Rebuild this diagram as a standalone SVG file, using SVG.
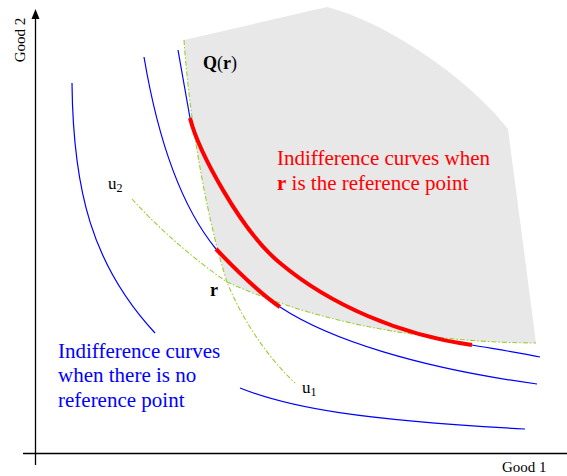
<svg xmlns="http://www.w3.org/2000/svg" width="567" height="476" viewBox="0 0 567 476">
<style>
text{font-family:"Liberation Serif","Times New Roman",serif;}
.ax{stroke:#000;stroke-width:1.3;fill:none}
.blue{stroke:#0000ff;stroke-width:1.2;fill:none}
.red{stroke:#ff0000;stroke-width:4;fill:none}
.green{stroke:#9acd32;stroke-width:1.1;fill:none;stroke-dasharray:5 2 1.5 2}
.lbl{font-size:21px}
</style>
<rect width="567" height="476" fill="#fff"/>
<g id="region-Q">
<path d="M184,40 L327,7 C385,22 465,75 508,129 L536,343 C400,342 300,315 227,282 C210,230 190,130 184,40 Z" fill="#e8e8e8"/>
</g>
<g id="axes">
<line class="ax" x1="35.5" y1="465" x2="35.5" y2="17"/>
<polygon points="35.5,9 31.5,19 39.5,19" fill="#000"/>
<line class="ax" x1="23" y1="453.5" x2="567" y2="453.5"/>
<text x="0" y="0" transform="translate(25,40) rotate(-90)" text-anchor="middle" font-size="15">Good 2</text>
<text x="502" y="472" font-size="15">Good 1</text>
</g>
<g id="connectors">
<path class="blue" d="M72,83 C73,190 92,265 155,333"/>
<path class="blue" d="M144,57 C158,140 180,205 216,249"/>
<path class="blue" d="M280,307 C330,340 420,368 537,384"/>
<path class="blue" d="M178,50 C182,72 186,95 190,118"/>
<path class="blue" d="M472,345 C495,349 520,353 540,357"/>
<path class="blue" d="M240,388 C290,408 360,420 525,429"/>
<path class="green" d="M184,40 C190,130 210,230 227,282 C240,315 265,355 295,383"/>
<path class="green" d="M132,199 C160,230 195,260 227,282 C300,315 400,342 536,343"/>
<path class="red" d="M216,249 C236,270 258,292 280,307"/>
<path class="red" d="M190,118 C198,150 240,230 280,263 C330,305 400,335 472,345"/>
</g>
<g id="label-Q">
<text x="203" y="69" font-size="18"><tspan font-weight="bold">Q</tspan>(<tspan font-weight="bold">r</tspan>)</text>
</g>
<g id="label-red">
<text class="lbl" fill="#ff0000"><tspan x="277" y="165">Indifference curves when</tspan><tspan x="277" y="190"><tspan font-weight="bold">r</tspan> is the reference point</tspan></text>
</g>
<g id="label-blue">
<text class="lbl" fill="#0000ff"><tspan x="58" y="358">Indifference curves</tspan><tspan x="58" y="382">when there is no</tspan><tspan x="58" y="407">reference point</tspan></text>
</g>
<g id="label-u2">
<text x="108" y="189" font-size="17">u<tspan font-size="12" dy="3">2</tspan></text>
</g>
<g id="label-u1">
<text x="302" y="393" font-size="17">u<tspan font-size="12" dy="3">1</tspan></text>
</g>
<g id="label-r">
<text x="210" y="296" font-size="18" font-weight="bold">r</text>
</g>
</svg>
